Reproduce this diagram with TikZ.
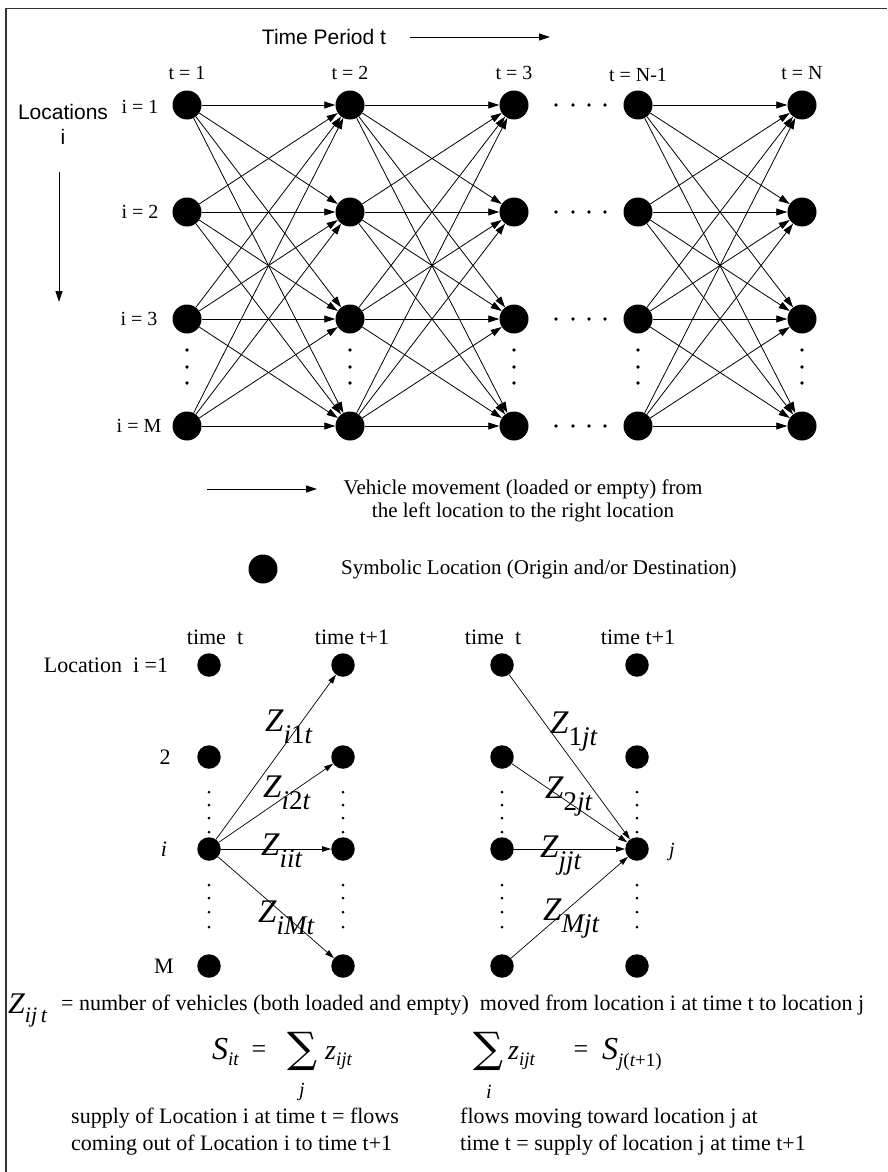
\documentclass[tikz,border=0pt]{standalone}
\usepackage{fontspec}
\setmainfont{Liberation Serif}
\newfontfamily\arialf{Liberation Sans}
\newfontfamily\dvserif{DejaVu Serif}
\usetikzlibrary{arrows.meta}
\newcommand{\fs}[1]{\fontsize{#1}{#1}\selectfont}
\newcommand{\Zlab}[1]{{\fs{33}\itshape Z}\raisebox{-12pt}{\fs{27}\itshape #1}}
\begin{document}
\begin{tikzpicture}[x=1pt,y=-1pt,
  bigdot/.style={circle,fill=black,inner sep=0pt,minimum size=29pt},
  smalldot/.style={circle,fill=black,inner sep=0pt,minimum size=23.5pt},
  flow/.style={line width=0.8pt,-{Triangle[length=11pt,width=7pt]}},
  sflow/.style={line width=0.7pt,-{Triangle[length=9pt,width=5.5pt]}},
  lbl/.style={inner sep=0pt,font=\fs{20}},
  txt/.style={inner sep=0pt,font=\fs{22}},
  sans/.style={inner sep=0pt,font=\arialf\fs{21}},
  zl/.style={inner sep=0pt,anchor=base west},
  sumsym/.style={inner sep=0pt,font=\dvserif\fs{42}},
  frame/.style={line width=1.3pt,black!80}
]
\useasboundingbox (0,0) rectangle (887,1172);
\fill[white] (0,0) rectangle (887,1172);
\draw[frame] (6,1172) -- (6,8.5) -- (887,8.5);

% ---------- header ----------
\node[sans] (tp) at (324,37) {Time Period t};
\coordinate (tpa0) at (410,37);
\coordinate (tpa1) at (550,37);
\draw[flow] (tpa0) -- (tpa1);

\node[sans] (loc) at (63,112) {Locations};
\node[sans] (loci) at (63,137) {i};
\coordinate (va0) at (59,172);
\coordinate (va1) at (59,302);
\draw[flow] (va0) -- (va1);

\node[lbl] (t1) at (187,73) {t = 1};
\node[lbl] (t2) at (350,73) {t = 2};
\node[lbl] (t3) at (514,73) {t = 3};
\node[lbl] (t4) at (638,75) {t = N-1};
\node[lbl] (t5) at (802,73) {t = N};

\node[lbl] (i1) at (140,107) {i = 1};
\node[lbl] (i2) at (140,212) {i = 2};
\node[lbl] (i3) at (139,319) {i = 3};
\node[lbl] (i4) at (139,426) {i = M};

% ---------- top grid ----------
\foreach \c/\x in {1/187,2/350,3/514,4/638,5/802}
  \foreach \r/\y in {1/105,2/212,3/319,4/426}
    \node[bigdot] (n\c\r) at (\x,\y) {};
\foreach \a/\b in {1/2,2/3,4/5}
  \foreach \r in {1,...,4}
    \foreach \s in {1,...,4}
      \draw[flow] (n\a\r) -- (n\b\s);
\foreach \x in {187,350,514,638,802}
  \foreach \y in {350,367,383}
    \fill (\x,\y) circle (1.8);
\foreach \y in {105,212,319,426}
  \foreach \x in {556,573,589,605}
    \fill (\x,\y) circle (1.8);

% ---------- legend ----------
\coordinate (la0) at (207,489);
\coordinate (la1) at (317,489);
\draw[flow] (la0) -- (la1);
\node[inner sep=0pt,font=\fs{21},align=center] (lt1) at (523,501)
  {Vehicle movement (loaded or empty) from\\[2pt]the left location to the right location};
\node[bigdot] (ldot) at (263,569) {};
\node[inner sep=0pt,font=\fs{21},anchor=west] (lt2) at (341,569)
  {Symbolic Location (Origin and/or Destination)};

% ---------- bottom detail ----------
\node[txt] (htA) at (215,637) {time\ \ t};
\node[txt] (htB) at (352,637) {time t+1};
\node[txt] (htC) at (493,637) {time\ \ t};
\node[txt] (htD) at (638,637) {time t+1};
\node[txt] (lr1) at (106,665) {Location\ \ i =1};
\node[txt] (lr2) at (165,757) {2};
\node[txt] (lr3) at (164,849) {\itshape i};
\node[txt] (lr4) at (164,966) {M};
\node[lbl] (lj) at (672,852) {\itshape j};

\foreach \c/\x in {a/209,b/343,c/502,d/637}
  \foreach \r/\y in {1/665,2/757,3/849,4/966}
    \node[smalldot] (\c\r) at (\x,\y) {};
\foreach \x in {209,343,502,637}
  \foreach \y in {792,805,818,832,885,898,912,927}
    \fill (\x,\y) circle (1.5);

\foreach \s in {1,...,4} \draw[sflow] (a3) -- (b\s);
\foreach \s in {1,...,4} \draw[sflow] (c\s) -- (d3);

\node[zl] (z1) at (265,731) {\Zlab{i\upshape 1\itshape t}};
\node[zl] (z2) at (263,797) {\Zlab{i\upshape 2\itshape t}};
\node[zl] (z3) at (261,855) {\Zlab{iit}};
\node[zl] (z4) at (258,922) {\Zlab{iMt}};
\node[zl] (z5) at (550,733) {\Zlab{\upshape 1\itshape jt}};
\node[zl] (z6) at (545,798) {\Zlab{\upshape 2\itshape jt}};
\node[zl] (z7) at (540,857) {\Zlab{jjt}};
\node[zl] (z8) at (543,920) {\Zlab{Mjt}};

% ---------- definitions ----------
\node[zl] (zdef) at (8,1013) {{\fs{30}\itshape Z}\raisebox{-9pt}{\fs{22}\itshape ij\,t}};
\node[zl,font=\fs{22}] (zdeft) at (61,1010)
  {= number of vehicles (both loaded and empty)\ \ moved from location i at time t to location j};

\node[zl] (s1) at (212,1059) {{\fs{32}\itshape S}\raisebox{-6pt}{\fs{19}\itshape it}};
\node[inner sep=0pt,font=\fs{26}] (eq1) at (259,1052) {=};
\node[zl,sumsym] (sum1) at (287,1062) {∑};
\node[lbl] (sj) at (302,1092) {\itshape j};
\node[zl] (zs1) at (325,1059) {{\fs{28}\itshape z}\raisebox{-6pt}{\fs{19}\itshape ijt}};

\node[zl,sumsym] (sum2) at (473,1062) {∑};
\node[lbl] (si) at (489,1092) {\itshape i};
\node[zl] (zs2) at (508,1059) {{\fs{28}\itshape z}\raisebox{-6pt}{\fs{19}\itshape ijt}};
\node[inner sep=0pt,font=\fs{26}] (eq2) at (581,1052) {=};
\node[zl] (s2) at (602,1059) {{\fs{32}\itshape S}\raisebox{-7pt}{\fs{19}\itshape j\upshape(\itshape t\upshape+1)}};

\node[txt,anchor=west] (d1) at (71,1118) {supply of Location i at time t = flows};
\node[txt,anchor=west] (d2) at (71,1145) {coming out of Location i to time t+1};
\node[txt,anchor=west] (d3t) at (460,1118) {flows moving toward location j at};
\node[txt,anchor=west] (d4) at (460,1145) {time t = supply of location j at time t+1};
\end{tikzpicture}
\end{document}
